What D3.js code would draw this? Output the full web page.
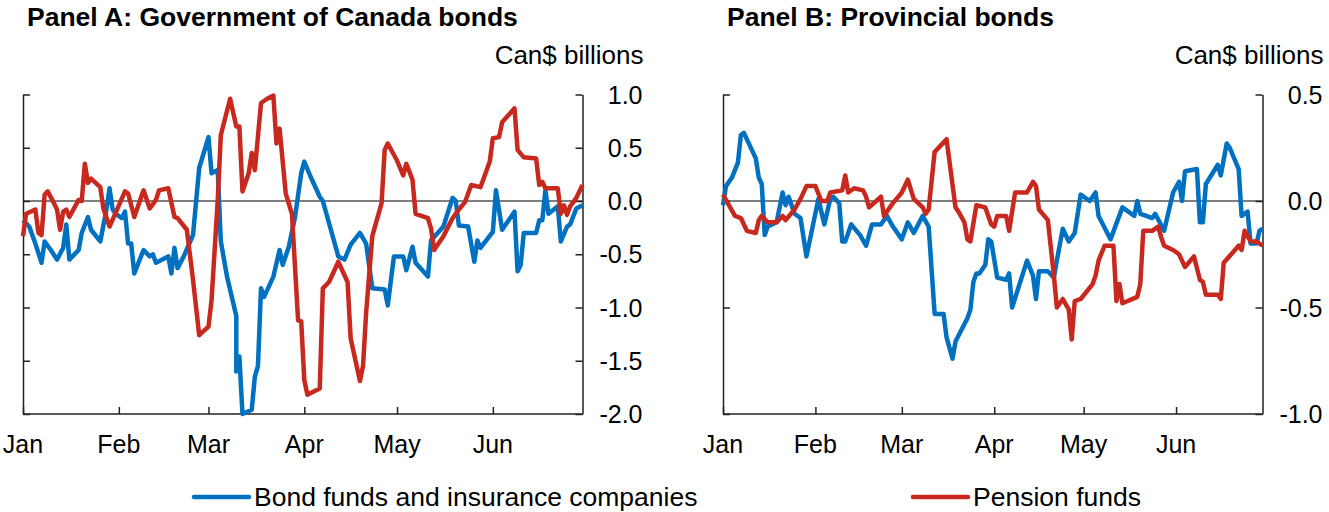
<!DOCTYPE html>
<html>
<head>
<meta charset="utf-8">
<title>Net purchases of bonds by investor type</title>
<script src="https://d3js.org/d3.v7.min.js"></script>
<style>
  body { margin: 0; background: #fff; }
  svg text { font-family: "Liberation Sans", Arial, sans-serif; fill: #000; }
  .axis line, .axis path { stroke: #222; stroke-width: 1.5; }
</style>
</head>
<body>
<div id="viz"></div>
<script>
// month tick labels and y ticks
var months = ["Jan", "Feb", "Mar", "Apr", "May", "Jun"];
var ticksA = [1.0, 0.5, 0.0, -0.5, -1.0, -1.5, -2.0];
var ticksB = [0.5, 0.0, -0.5, -1.0];

// Panel A - Government of Canada bonds (Can$ billions)
var bondDatesA = ["01-01","01-03","01-05","01-07","01-08","01-10","01-12","01-14","01-15","01-16","01-19","01-20","01-22","01-23","01-26","01-28","01-29","01-30","01-31","02-02","02-03","02-04","02-05","02-06","02-09","02-11","02-12","02-13","02-17","02-18","02-19","02-20","02-22","02-25","02-27","03-01","03-02","03-04","03-05","03-07","03-10","03-10","03-11","03-12","03-15","03-16","03-17","03-18","03-19","03-22","03-24","03-25","03-27","03-29","03-31","04-01","04-03","04-06","04-07","04-12","04-14","04-16","04-19","04-21","04-23","04-27","04-28","04-30","05-03","05-04","05-06","05-07","05-11","05-12","05-16","05-19","05-20","05-21","05-24","05-26","05-27","05-28","06-01","06-02","06-04","06-08","06-09","06-10","06-11","06-15","06-16","06-17","06-18","06-19","06-22","06-23","06-25","06-26","06-28","06-30"];
var bondA = [-0.18,-0.24,-0.40,-0.58,-0.38,-0.46,-0.55,-0.44,-0.22,-0.55,-0.46,-0.30,-0.15,-0.27,-0.38,-0.08,0.12,-0.08,-0.12,-0.16,-0.10,-0.40,-0.40,-0.68,-0.46,-0.52,-0.50,-0.58,-0.52,-0.68,-0.44,-0.63,-0.52,-0.32,0.31,0.60,0.26,0.29,-0.38,-0.71,-1.08,-1.60,-1.46,-2.00,-1.96,-1.65,-1.55,-0.82,-0.90,-0.71,-0.46,-0.60,-0.43,-0.15,0.26,0.37,0.23,0.04,0.00,-0.52,-0.55,-0.41,-0.30,-0.40,-0.82,-0.83,-0.98,-0.52,-0.52,-0.65,-0.43,-0.58,-0.71,-0.37,-0.24,0.03,0.00,-0.23,-0.24,-0.57,-0.37,-0.44,-0.29,0.10,-0.27,-0.10,-0.66,-0.60,-0.30,-0.30,-0.18,-0.18,0.10,-0.12,-0.05,-0.38,-0.24,-0.22,-0.07,-0.04];

var pensionDatesA = ["01-01","01-02","01-05","01-06","01-07","01-08","01-09","01-11","01-12","01-13","01-14","01-15","01-16","01-19","01-20","01-21","01-22","01-23","01-26","01-27","01-29","02-03","02-04","02-06","02-09","02-11","02-13","02-14","02-17","02-19","02-20","02-23","02-25","02-27","03-01","03-02","03-04","03-05","03-08","03-10","03-11","03-12","03-14","03-15","03-16","03-18","03-20","03-22","03-23","03-24","03-26","03-28","03-30","03-31","04-01","04-02","04-06","04-07","04-09","04-12","04-15","04-16","04-19","04-20","04-21","04-23","04-26","04-27","04-28","05-01","05-03","05-04","05-06","05-07","05-11","05-12","05-13","05-16","05-19","05-21","05-23","05-25","05-28","05-31","06-01","06-03","06-04","06-08","06-09","06-11","06-15","06-16","06-17","06-18","06-22","06-23","06-24","06-25","06-26","06-28","06-30"];
var pensionA = [-0.33,-0.12,-0.08,-0.30,-0.32,0.06,0.09,-0.02,-0.08,-0.27,-0.10,-0.08,-0.15,0.01,0.00,0.35,0.17,0.21,0.13,-0.07,-0.24,0.09,0.07,-0.15,0.10,-0.07,0.01,0.10,0.12,-0.15,-0.16,-0.27,-0.74,-1.26,-1.18,-0.93,0.01,0.62,0.96,0.70,0.70,0.09,0.26,0.45,0.29,0.92,0.96,0.99,0.54,0.68,0.07,-0.12,-1.12,-1.13,-1.68,-1.82,-1.76,-0.82,-0.76,-0.57,-0.76,-1.29,-1.69,-1.55,-1.05,-0.33,-0.02,0.48,0.54,0.38,0.24,0.35,0.20,-0.12,-0.16,-0.26,-0.46,-0.33,-0.16,-0.08,-0.01,0.15,0.13,0.37,0.59,0.60,0.74,0.87,0.48,0.41,0.40,0.15,0.18,0.12,0.12,-0.12,-0.04,-0.13,-0.05,0.03,0.15];

// Panel B - Provincial bonds (Can$ billions)
var bondDatesB = ["01-01","01-02","01-04","01-06","01-07","01-08","01-12","01-13","01-14","01-15","01-16","01-19","01-21","01-22","01-23","01-25","01-27","01-29","02-02","02-04","02-06","02-07","02-09","02-10","02-11","02-13","02-16","02-18","02-20","02-23","02-25","02-27","03-01","03-03","03-05","03-08","03-10","03-12","03-15","03-16","03-18","03-19","03-23","03-24","03-25","03-26","03-27","03-29","03-30","03-31","04-02","04-05","04-06","04-07","04-12","04-14","04-15","04-16","04-19","04-21","04-22","04-24","04-26","04-28","04-30","05-03","05-05","05-06","05-10","05-14","05-18","05-19","05-20","05-22","05-24","05-25","05-28","05-31","06-02","06-03","06-04","06-08","06-09","06-10","06-11","06-15","06-16","06-18","06-19","06-22","06-23","06-25","06-26","06-28","06-29","06-30"];
var bondB = [-0.02,0.07,0.11,0.18,0.31,0.32,0.20,0.11,0.08,-0.16,-0.12,-0.10,0.04,-0.02,0.02,-0.06,-0.08,-0.26,0.01,-0.11,0.01,0.02,-0.01,-0.19,-0.19,-0.11,-0.16,-0.21,-0.11,-0.11,-0.07,-0.12,-0.18,-0.10,-0.15,-0.07,-0.12,-0.53,-0.53,-0.64,-0.74,-0.66,-0.55,-0.51,-0.38,-0.34,-0.34,-0.30,-0.18,-0.19,-0.36,-0.37,-0.34,-0.50,-0.28,-0.35,-0.46,-0.33,-0.33,-0.36,-0.28,-0.13,-0.19,-0.15,0.03,0.00,0.04,-0.07,-0.18,-0.03,-0.07,0.00,-0.06,-0.07,-0.08,-0.06,-0.14,0.04,0.09,0.00,0.14,0.15,-0.10,-0.10,0.08,0.17,0.12,0.27,0.25,0.15,-0.07,-0.05,-0.20,-0.20,-0.14,-0.13];

var pensionDatesB = ["01-01","01-03","01-05","01-07","01-09","01-12","01-13","01-14","01-16","01-19","01-21","01-22","01-25","01-27","01-29","02-01","02-03","02-05","02-06","02-10","02-11","02-12","02-14","02-17","02-18","02-19","02-23","02-24","02-27","03-01","03-03","03-05","03-08","03-09","03-10","03-12","03-14","03-16","03-19","03-20","03-22","03-23","03-24","03-26","03-29","03-31","04-01","04-02","04-05","04-06","04-08","04-12","04-14","04-15","04-16","04-19","04-21","04-22","04-24","04-26","04-27","04-28","04-30","05-04","05-05","05-06","05-08","05-11","05-12","05-13","05-14","05-19","05-20","05-21","05-24","05-26","05-27","05-28","05-31","06-02","06-04","06-07","06-09","06-10","06-11","06-15","06-16","06-17","06-22","06-23","06-24","06-26","06-28","06-30"];
var pensionB = [0.03,-0.02,-0.07,-0.08,-0.14,-0.15,-0.09,-0.07,-0.10,-0.10,-0.07,-0.09,-0.04,0.01,0.07,0.07,0.00,0.00,0.04,0.05,0.12,0.04,0.06,0.05,0.02,-0.03,0.02,-0.07,-0.01,0.04,0.10,0.01,-0.03,-0.06,-0.04,0.23,0.26,0.29,-0.03,-0.05,-0.10,-0.18,-0.19,-0.02,-0.03,-0.11,-0.12,-0.07,-0.07,-0.14,0.04,0.04,0.09,0.07,-0.04,-0.09,-0.35,-0.50,-0.46,-0.51,-0.65,-0.47,-0.46,-0.39,-0.35,-0.28,-0.21,-0.21,-0.47,-0.39,-0.48,-0.45,-0.39,-0.14,-0.14,-0.12,-0.17,-0.21,-0.23,-0.25,-0.31,-0.26,-0.37,-0.38,-0.44,-0.44,-0.46,-0.29,-0.21,-0.23,-0.14,-0.19,-0.19,-0.21];

var blue = "#0070C0", red = "#C8281E";
var parse = function(s) { return d3.timeParse("%Y-%m-%d")("2020-" + s); };

var svg = d3.select("#viz").append("svg")
    .attr("width", 1329)
    .attr("height", 512);

function panel(opts) {
  var x = d3.scaleTime()
      .domain([parse("01-01"), parse("06-30")])
      .range([opts.left, opts.right]);
  var y = d3.scaleLinear()
      .domain(opts.domain)
      .range([414, 94.5]);

  var g = svg.append("g");

  // zero line
  g.append("line")
      .attr("x1", opts.left).attr("x2", opts.right)
      .attr("y1", y(0)).attr("y2", y(0))
      .attr("stroke", "#000").attr("stroke-width", 1.2);

  // bottom axis, ticks pointing up
  var monthTicks = months.map(function(m, i) { return new Date(2020, i, 1); });
  g.append("g")
      .attr("class", "axis")
      .attr("transform", "translate(0,414)")
      .call(d3.axisBottom(x).tickValues(monthTicks).tickSizeInner(-7).tickSizeOuter(0).tickFormat(""))
      .call(function(a) { a.select(".domain").attr("d", "M" + opts.left + ",0H" + opts.right); });

  g.selectAll(".mlabel")
      .data(monthTicks)
    .enter().append("text")
      .attr("x", function(d) { return x(d); })
      .attr("y", 453)
      .attr("text-anchor", "middle")
      .style("font-size", "25px")
      .text(function(d, i) { return months[i]; });

  // left axis, ticks inward, no labels
  g.append("g")
      .attr("class", "axis")
      .attr("transform", "translate(" + opts.left + ",0)")
      .call(d3.axisRight(y).tickValues(opts.ticks).tickSizeInner(7).tickSizeOuter(0).tickFormat(""));

  // right axis, ticks inward, labels outside
  g.append("g")
      .attr("class", "axis")
      .attr("transform", "translate(" + opts.right + ",0)")
      .call(d3.axisLeft(y).tickValues(opts.ticks).tickSizeInner(7).tickSizeOuter(0).tickFormat(""));

  g.selectAll(".ylabel")
      .data(opts.ticks)
    .enter().append("text")
      .attr("x", opts.right + 60)
      .attr("y", function(d) { return y(d) + 9; })
      .attr("text-anchor", "end")
      .style("font-size", "25px")
      .text(function(d) { return d.toFixed(1); });

  g.append("text")
      .attr("x", opts.right + 61)
      .attr("y", 64)
      .attr("text-anchor", "end")
      .style("font-size", "26px")
      .text("Can$ billions");

  g.append("text")
      .attr("x", opts.left + 4)
      .attr("y", 26)
      .style("font-size", "26.5px")
      .style("font-weight", "bold")
      .text(opts.title);

  var line = d3.line()
      .x(function(d) { return x(d[0]); })
      .y(function(d) { return y(d[1]); });

  opts.series.forEach(function(s) {
    var pts = s.dates.map(function(d, i) { return [parse(d), s.values[i]]; });
    g.append("path")
        .datum(pts)
        .attr("fill", "none")
        .attr("stroke", s.color)
        .attr("stroke-width", 4.5)
        .attr("stroke-linejoin", "round")
        .attr("d", line);
  });
}

panel({
  left: 23, right: 582.5, domain: [-2.0, 1.0], ticks: ticksA,
  title: "Panel A: Government of Canada bonds",
  series: [
    { dates: bondDatesA, values: bondA, color: blue },
    { dates: pensionDatesA, values: pensionA, color: red }
  ]
});

panel({
  left: 723, right: 1262.5, domain: [-1.0, 0.5], ticks: ticksB,
  title: "Panel B: Provincial bonds",
  series: [
    { dates: bondDatesB, values: bondB, color: blue },
    { dates: pensionDatesB, values: pensionB, color: red }
  ]
});

// legend
var legendItems = [
  { label: "Bond funds and insurance companies", color: blue, x: 194 },
  { label: "Pension funds", color: red, x: 913 }
];

var legend = svg.selectAll(".legend")
    .data(legendItems)
  .enter().append("g")
    .attr("class", "legend")
    .attr("transform", function(d) { return "translate(" + d.x + ",497)"; });

legend.append("line")
    .attr("x1", 0).attr("x2", 55)
    .attr("stroke", function(d) { return d.color; })
    .attr("stroke-width", 4.5)
    .attr("stroke-linecap", "round");

legend.append("text")
    .attr("x", 60)
    .attr("y", 9)
    .style("font-size", "26.5px")
    .text(function(d) { return d.label; });
</script>
</body>
</html>
